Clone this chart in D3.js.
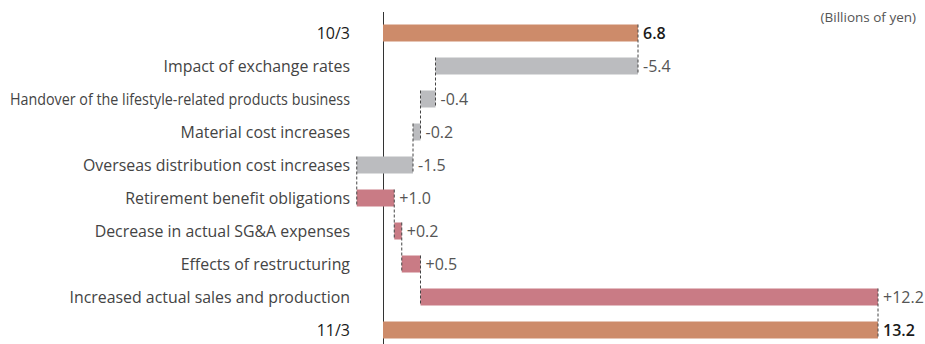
<!DOCTYPE html>
<html><head><meta charset="utf-8">
<script src="https://cdn.jsdelivr.net/npm/d3@7"></script>
<style>
html,body{margin:0;padding:0;background:#fff;}
svg{display:block;font-family:"Open Sans","Noto Sans",sans-serif;}
</style></head>
<body>
<svg id="chart" width="925" height="344"></svg>
<script>
const categories = ["10/3","Impact of exchange rates","Handover of the lifestyle-related products business","Material cost increases","Overseas distribution cost increases","Retirement benefit obligations","Decrease in actual SG&A expenses","Effects of restructuring","Increased actual sales and production","11/3"];
const values = [6.8,-5.4,-0.4,-0.2,-1.5,1.0,0.2,0.5,12.2,13.2];
const kinds = ["total","neg","neg","neg","neg","pos","pos","pos","pos","total"];
const valueLabels = ["6.8","-5.4","-0.4","-0.2","-1.5","+1.0","+0.2","+0.5","+12.2","13.2"];
const unitLabel = "(Billions of yen)";

const colors = {total:"#cd8b6a", neg:"#bbbcbf", pos:"#c97b85"};

let run = 0;
const rows = categories.map((c,i)=>{
  let a,b;
  if(kinds[i]==="total"){ a=0; b=values[i]; run=values[i]; }
  else { a=run; b=run+values[i]; run=b; }
  return {cat:c, kind:kinds[i], a, b, label:valueLabels[i], i};
});

const svg = d3.select("#chart");
const x = d3.scaleLinear().domain([0,13.2]).range([383,878]);
const y = d3.scaleBand().domain(categories).range([16.5,346.5]).paddingInner(0.485).paddingOuter(0.2425);

svg.append("line").attr("x1",x(0)+0.5).attr("x2",x(0)+0.5).attr("y1",12).attr("y2",344)
  .attr("stroke","#333").attr("stroke-width",1);

svg.selectAll("rect.bar").data(rows).enter().append("rect")
  .attr("x",d=>x(Math.min(d.a,d.b)))
  .attr("width",d=>Math.abs(x(d.b)-x(d.a)))
  .attr("y",d=>y(d.cat))
  .attr("height",y.bandwidth())
  .attr("fill",d=>colors[d.kind]);

for(let i=1;i<rows.length;i++){
  const prev=rows[i-1], cur=rows[i];
  const xv = x(prev.b);
  svg.append("line").attr("x1",xv).attr("x2",xv)
    .attr("y1",y(prev.cat)).attr("y2",y(cur.cat)+y.bandwidth())
    .attr("stroke","#444").attr("stroke-width",1).attr("stroke-dasharray","3,2");
}

const labelRight = 350, labelMaxW = 340;
svg.selectAll("text.cat").data(rows).enter().append("text")
  .attr("x",labelRight).attr("y",d=>y(d.cat)+y.bandwidth()/2)
  .attr("dy","0.36em").attr("text-anchor","end")
  .attr("font-size",d=>d.kind==="total"?16:15.9)
  .attr("fill",d=>d.kind==="total"?"#1a1a1a":"#444")
  .text(d=>d.cat)
  .each(function(){
    const w=this.getComputedTextLength();
    if(w>labelMaxW){ d3.select(this).attr("textLength",labelMaxW).attr("lengthAdjust","spacingAndGlyphs"); }
  });

svg.selectAll("text.val").data(rows).enter().append("text")
  .attr("x",d=>x(Math.max(d.a,d.b))+(d.kind==="total"?5:5))
  .attr("y",d=>y(d.cat)+y.bandwidth()/2)
  .attr("dy","0.36em")
  .attr("font-size",16)
  .attr("fill",d=>d.kind==="total"?"#1a1a1a":"#555")
  .attr("font-weight",d=>d.kind==="total"?600:400)
  .text(d=>d.label);

svg.append("text").attr("x",916).attr("y",22).attr("text-anchor","end")
  .attr("font-size",13.5).attr("fill","#555").text(unitLabel);
</script>
</body></html>
